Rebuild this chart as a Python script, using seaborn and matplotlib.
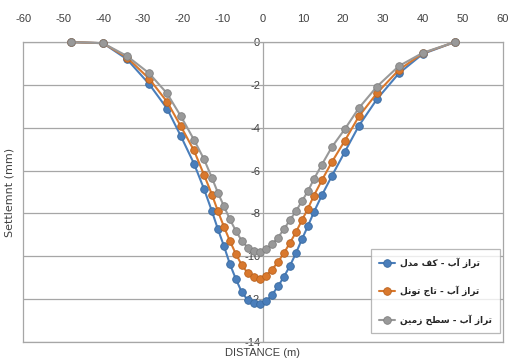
import pandas as pd
import matplotlib
matplotlib.use("Agg")
import matplotlib.pyplot as plt
import matplotlib.transforms as mtransforms
import seaborn as sns

# distance along the section (m)
distance = [-48, -40, -34, -28.5, -24, -20.5, -17.25, -14.75, -12.75, -11.25, -9.75, -8.25,
            -6.75, -5.25, -3.75, -2.25, -0.75, 0.75, 2.25, 3.75, 5.25, 6.75, 8.25, 9.75,
            11.25, 12.75, 14.75, 17.25, 20.5, 24, 28.5, 34, 40, 48]

# settlement (mm) for the three water levels
kaf_model = [0, -0.05, -0.8, -1.95, -3.1, -4.4, -5.67, -6.85, -7.9, -8.74, -9.52, -10.37,
             -11.07, -11.69, -12.05, -12.19, -12.23, -12.1, -11.81, -11.41, -10.96, -10.45, -9.86, -9.21,
             -8.59, -7.94, -7.15, -6.25, -5.12, -3.91, -2.67, -1.46, -0.55, 0]
taj_tunnel = [0, -0.05, -0.72, -1.7, -2.78, -3.94, -5.06, -6.19, -7.12, -7.9, -8.62, -9.29,
              -9.9, -10.42, -10.79, -10.99, -11.04, -10.9, -10.63, -10.27, -9.85, -9.38, -8.88, -8.32,
              -7.78, -7.17, -6.45, -5.6, -4.6, -3.47, -2.39, -1.3, -0.52, 0]
sath_zamin = [0, -0.05, -0.65, -1.45, -2.39, -3.47, -4.56, -5.46, -6.34, -7.04, -7.66, -8.28,
              -8.82, -9.29, -9.6, -9.75, -9.78, -9.66, -9.44, -9.13, -8.74, -8.31, -7.9, -7.43,
              -6.96, -6.4, -5.72, -4.9, -4.06, -3.08, -2.08, -1.12, -0.5, 0]

# legend names (Persian, written in shaped visual order since matplotlib has no bidi)
# logical: "تراز آب - کف مدل", "تراز آب - تاج تونل", "تراز آب - سطح زمین"
names = [
    "\uFEDD\uFEAA\uFEE3 \uFED2\uFB90 - \uFE8F\uFE81 \uFEAF\uFE8D\uFEAE\uFE97",
    "\uFEDE\uFEE7\uFEEE\uFE97 \uFE9D\uFE8E\uFE97 - \uFE8F\uFE81 \uFEAF\uFE8D\uFEAE\uFE97",
    "\uFEE6\uFBFF\uFEE3\uFEAF \uFEA2\uFEC4\uFEB3 - \uFE8F\uFE81 \uFEAF\uFE8D\uFEAE\uFE97",
]
colors = ["#4A7EBB", "#D9782D", "#999999"]
edges = ["#3A6A9E", "#B8621F", "#808080"]

x_ticks = list(range(-60, 61, 10))
y_ticks = list(range(-14, 1, 2))

sns.set_style("white")
plt.rcParams['font.family'] = ['Liberation Sans', 'DejaVu Sans']
plt.rcParams['axes.unicode_minus'] = False

fig = plt.figure(figsize=(5.13, 3.63), dpi=100)
ax = fig.add_axes([0.045, 0.058, 0.935, 0.826])

for vals, name, c, ec in zip([kaf_model, taj_tunnel, sath_zamin], names, colors, edges):
    df = pd.DataFrame({"distance": distance, "settlement": vals})
    sns.lineplot(data=df, x="distance", y="settlement", ax=ax, color=c, sort=False,
                 marker="o", markersize=5.5, markeredgecolor=ec, markeredgewidth=0.6,
                 linewidth=1.5, label=name, clip_on=False, zorder=3)

ax.set_xlim(-60, 60)
ax.set_ylim(-14, 0)
ax.set_xticks(x_ticks)
ax.set_yticks(y_ticks)
ax.xaxis.tick_top()
ax.tick_params(axis="x", length=0, pad=13, labelsize=8, labelcolor="#404040")
ax.tick_params(axis="y", length=0, pad=2, labelsize=8, labelcolor="#404040")
ax.grid(axis="y", color="#A6A6A6", linewidth=0.9)
ax.axvline(0, color="#A6A6A6", linewidth=0.9, zorder=1)
for s in ax.spines.values():
    s.set_color("#A6A6A6")
    s.set_linewidth(0.9)

# y tick labels sit on the centre line (x = 0): shift them by half the axes width
half_w = ax.get_position().width * fig.get_figwidth() / 2
shift = mtransforms.ScaledTranslation(half_w, 0, fig.dpi_scale_trans)
for lbl in ax.get_yticklabels():
    lbl.set_transform(lbl.get_transform() + shift)

ax.set_xlabel("DISTANCE (m)", fontsize=8, color="#404040", labelpad=4)
ax.xaxis.set_label_position("bottom")
ax.set_ylabel("Settlemnt (mm)", fontsize=8, color="#404040", labelpad=6,
              family=["DejaVu Sans"])

leg = ax.legend(loc="lower right", bbox_to_anchor=(1.0, 0.02), frameon=True,
                fancybox=False, edgecolor="#A6A6A6",
                prop={"family": ["DejaVu Sans"], "weight": "bold", "size": 6.5},
                handlelength=1.8, handletextpad=0.5, labelspacing=2.0,
                borderpad=0.9, borderaxespad=0.3)
leg.get_frame().set_linewidth(0.9)

fig.savefig("out.png", dpi=100)
